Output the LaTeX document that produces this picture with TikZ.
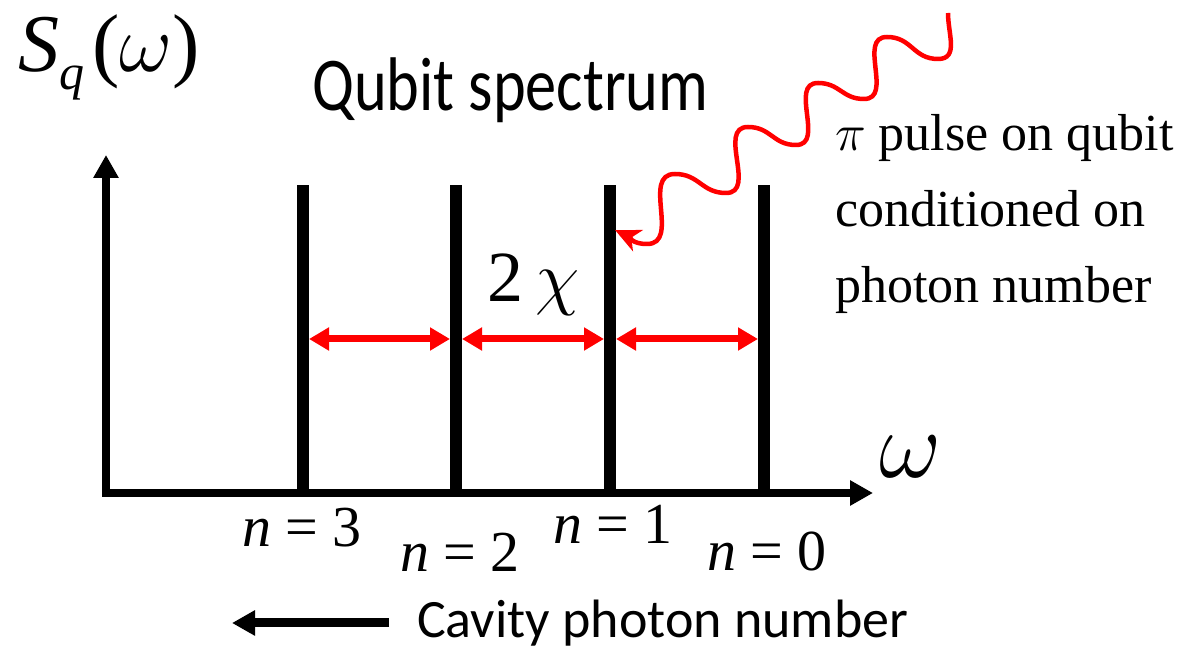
\RequirePackage{fix-cm}
\documentclass[tikz,border=0pt]{standalone}
\usepackage{fontspec}
\usepackage{graphicx}
\setmainfont{Liberation Serif}
\newfontfamily\calibri{Carlito}
\usetikzlibrary{arrows.meta,positioning}

\begin{document}
\begin{tikzpicture}[x=1pt,y=1pt,
  axis/.style={line width=8pt},
  peak/.style={line width=11.5pt},
  gap/.style={red,line width=7pt,{Triangle[length=20pt,width=22pt]}-{Triangle[length=20pt,width=22pt]}},
  pulse/.style={red,line width=4.5pt,looseness=1.15,-{Stealth[length=25pt,width=23pt,inset=7pt]}},
  lbl/.style={inner sep=0pt,anchor=base}]
\useasboundingbox (0,0) rectangle (1184,650);

% axes
\coordinate (ytip) at (106,495);
\coordinate (xtip) at (873,157);
\draw[axis,{Triangle[length=23pt,width=24pt]}-{Triangle[length=23pt,width=24pt]}] (ytip) |- (xtip);
\node[lbl,anchor=base west,font=\fontsize{82}{82}\selectfont] (sq) at (18,578)
  {\textit{S}\raisebox{-18pt}{\fontsize{50}{50}\selectfont\textit{q}}\hspace{8pt}($\omega$)};
\node[lbl,font=\fontsize{96}{96}\selectfont] (omega) at (910,172) {$\omega$};
\node[lbl,anchor=base west,font=\calibri] (title) at (312,539)
  {\scalebox{0.82}[1]{\fontsize{76}{76}\selectfont Qubit spectrum}};

% photon number peaks
\foreach \n/\x in {3/303,2/456,1/610,0/764} {
  \coordinate (bot\n) at (\x,157);
  \coordinate (top\n) at (\x,465);
  \coordinate (mid\n) at (\x,311);
  \draw[peak] (bot\n) -- (top\n);
}
\foreach \n/\x/\y in {3/302/103,2/460/78,1/613/106,0/767/79}
  \node[lbl,font=\fontsize{58}{58}\selectfont] (n\n) at (\x,\y) {\textit{n} = \n};

% 2chi spacing
\foreach \a/\b in {3/2,2/1,1/0}
  \draw[gap] ([xshift=6pt]mid\a) -- ([xshift=-6pt]mid\b);
\node[lbl,anchor=base west,font=\fontsize{72}{72}\selectfont] (chi) at (487,348) {2\,$\chi$};

% pi pulse
\coordinate (src) at (948,637);
\coordinate (hit) at (615,420);
\draw[pulse] (src) to[out=-90,in=0] (938,591) to[out=180,in=0] (887,613)
  to[out=180,in=0] (864,551) to[out=180,in=0] (818,567)
  to[out=180,in=0] (796,505) to[out=180,in=0] (748,523)
  to[out=180,in=0] (726,457) to[out=180,in=0] (675,476)
  to[out=180,in=0] (647,406) to[out=180,in=-25] (hit);
\node[inner sep=0pt,anchor=north west,align=left,font=\fontsize{52}{76}\selectfont] (pitext) at (835,536)
  {$\pi$ pulse on qubit\\conditioned on\\photon number};

% cavity photon number
\node[inner sep=0pt,anchor=base west,font=\calibri\fontsize{54}{54}\selectfont] (cavity) at (417,12) {Cavity photon number};
\coordinate (cavend) at (389,27);
\coordinate (cavtip) at (232,27);
\draw[line width=9pt,-{Triangle[length=23pt,width=24pt]}] (cavend) -- (cavtip);
\end{tikzpicture}
\end{document}
